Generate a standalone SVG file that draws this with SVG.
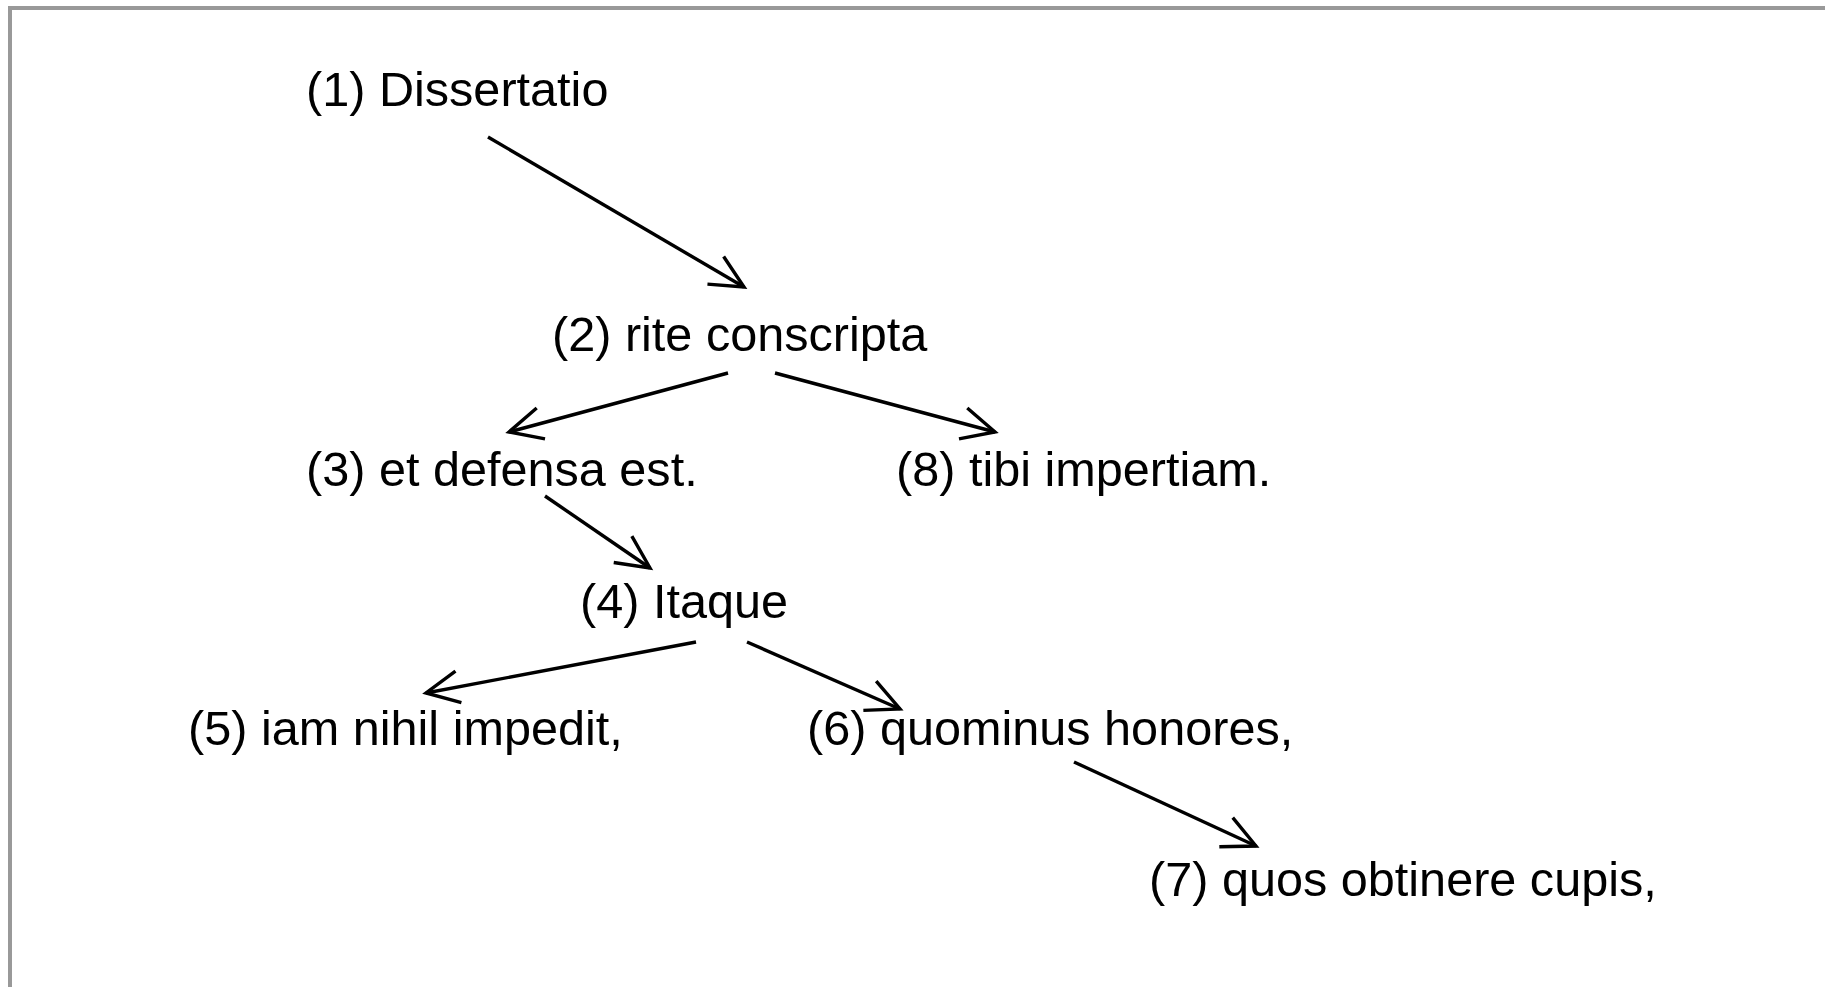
<svg xmlns="http://www.w3.org/2000/svg" width="1825" height="987" viewBox="0 0 1825 987">
<style>
.lbl{font-family:"Liberation Sans",Arial,Helvetica,sans-serif;font-size:48.6px;fill:#000}
.edge{stroke:#000;stroke-width:3.4;fill:none;marker-end:url(#arr)}
</style>
<defs>
<marker id="arr" markerUnits="userSpaceOnUse" orient="auto" refX="0" refY="0" markerWidth="80" markerHeight="80" viewBox="-40 -40 80 80" overflow="visible">
<path d="M-33,-16 L0,0 L-33,16" fill="none" stroke="#000" stroke-width="3.4"/>
</marker>
</defs>
<rect x="0" y="0" width="1825" height="987" fill="#fff"/>
<rect x="10" y="8" width="2000" height="2000" fill="none" stroke="#999" stroke-width="4"/>
<g id="connectors">
<line class="edge" x1="488" y1="137" x2="744" y2="287"/>
<line class="edge" x1="728" y1="373" x2="509" y2="432"/>
<line class="edge" x1="775" y1="373" x2="995" y2="432"/>
<line class="edge" x1="545" y1="496" x2="650" y2="568"/>
<line class="edge" x1="696" y1="642" x2="426" y2="693"/>
<line class="edge" x1="747" y1="642" x2="900" y2="709"/>
<line class="edge" x1="1074" y1="762" x2="1256" y2="846"/>
</g>
<g id="n1"><text class="lbl" x="306" y="106">(1) Dissertatio</text></g>
<g id="n2"><text class="lbl" x="552" y="351">(2) rite conscripta</text></g>
<g id="n3"><text class="lbl" x="306" y="486">(3) et defensa est.</text></g>
<g id="n8"><text class="lbl" x="896" y="486">(8) tibi impertiam.</text></g>
<g id="n4"><text class="lbl" x="580" y="618">(4) Itaque</text></g>
<g id="n5"><text class="lbl" x="188" y="745">(5) iam nihil impedit,</text></g>
<g id="n6"><text class="lbl" x="807" y="745">(6) quominus honores,</text></g>
<g id="n7"><text class="lbl" x="1149" y="896">(7) quos obtinere cupis,</text></g>
</svg>
